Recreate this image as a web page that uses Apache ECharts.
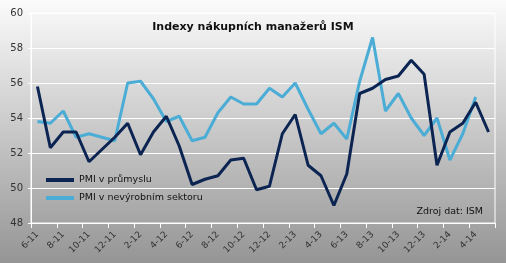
<!DOCTYPE html>
<html><head><meta charset="utf-8">
<script src="https://cdn.jsdelivr.net/npm/echarts@6/dist/echarts.min.js"></script>
<style>html,body{margin:0;padding:0;}#c{width:506px;height:263px;}</style>
</head><body><div id="c"></div>
<script>
const categories = ['6-11','7-11','8-11','9-11','10-11','11-11','12-11','1-12','2-12','3-12','4-12','5-12',
  '6-12','7-12','8-12','9-12','10-12','11-12','12-12','1-13','2-13','3-13','4-13','5-13',
  '6-13','7-13','8-13','9-13','10-13','11-13','12-13','1-14','2-14','3-14','4-14','5-14'];
const pmiManufacturing = [55.8,52.3,53.2,53.2,51.5,52.2,52.9,53.7,51.9,53.2,54.1,52.4,
  50.2,50.5,50.7,51.6,51.7,49.9,50.1,53.1,54.2,51.3,50.7,49.0,
  50.8,55.4,55.7,56.2,56.4,57.3,56.5,51.3,53.2,53.7,54.9,53.2];
const pmiServices = [53.8,53.7,54.4,52.9,53.1,52.9,52.7,56.0,56.1,55.1,53.8,54.1,
  52.7,52.9,54.3,55.2,54.8,54.8,55.7,55.2,56.0,54.5,53.1,53.7,
  52.8,56.1,58.6,54.4,55.4,54.0,53.0,54.0,51.6,53.1,55.2];
const yTicks = {min:48, max:60, interval:2};
const titleText = 'Indexy nákupních manažerů ISM';
const sourceText = 'Zdroj dat: ISM';
const seriesNames = ['PMI v průmyslu','PMI v nevýrobním sektoru'];

const chart = echarts.init(document.getElementById('c'));
chart.setOption({
  animation:false,
  backgroundColor:{type:'linear',x:0,y:0,x2:0,y2:1,colorStops:[{offset:0,color:'#fbfbfb'},{offset:1,color:'#959595'}]},
  textStyle:{fontFamily:'DejaVu Sans'},
  title:{text:titleText,left:'center',top:17,textStyle:{fontFamily:'DejaVu Sans',fontWeight:'bold',fontSize:11,color:'#111'}},
  legend:{orient:'vertical',left:41,top:170,itemWidth:28,itemHeight:4,itemGap:8,icon:'rect',
    textStyle:{fontFamily:'DejaVu Sans',fontSize:9.5,color:'#111'},data:seriesNames},
  grid:{left:31,right:11,top:13,bottom:40,show:true,borderColor:'#ffffff',borderWidth:1,backgroundColor:'transparent'},
  xAxis:{type:'category',data:categories,boundaryGap:true,
    axisLine:{lineStyle:{color:'#ffffff',width:1}},
    axisTick:{show:true,length:5,lineStyle:{color:'#ffffff'},interval:1},
    axisLabel:{interval:1,rotate:45,fontSize:9,color:'#333',margin:10,fontFamily:'DejaVu Sans'}},
  yAxis:{type:'value',min:yTicks.min,max:yTicks.max,interval:yTicks.interval,
    axisLine:{show:true,lineStyle:{color:'#ffffff'}},
    axisTick:{show:true,length:3,lineStyle:{color:'#ffffff'}},
    splitLine:{lineStyle:{color:'#ffffff',width:1}},
    axisLabel:{fontSize:10,color:'#333',margin:8,fontFamily:'DejaVu Sans'}},
  graphic:[{type:'text',right:23,top:207,style:{text:sourceText,fontSize:9.5,fontFamily:'DejaVu Sans',fill:'#111'}}],
  series:[
    {name:seriesNames[0],type:'line',data:pmiManufacturing,showSymbol:false,symbol:'none',
      lineStyle:{color:'#0c2452',width:3},itemStyle:{color:'#0c2452'},z:3},
    {name:seriesNames[1],type:'line',data:pmiServices,showSymbol:false,symbol:'none',
      lineStyle:{color:'#4badd6',width:3},itemStyle:{color:'#4badd6'},z:2}
  ]
});
</script></body></html>
